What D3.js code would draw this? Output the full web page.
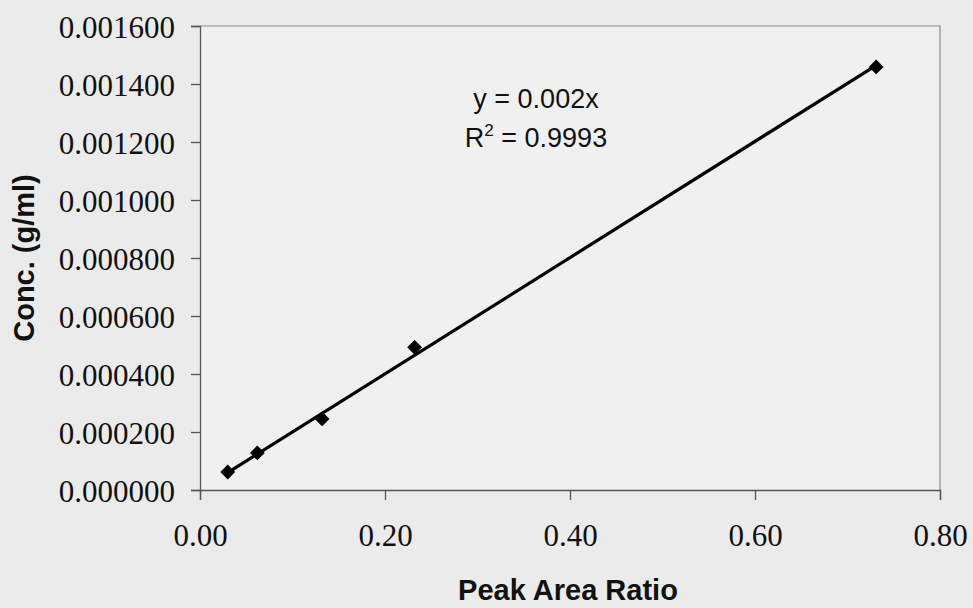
<!DOCTYPE html>
<meta charset="utf-8">
<style>
body { margin: 0; background: #ebebeb; }
.tick text { font-family: "Liberation Serif", "Times New Roman", serif; font-size: 31px; fill: #111; }
.title { font-family: "Liberation Sans", Arial, sans-serif; font-weight: bold; font-size: 29px; fill: #111; }
.eq { font-family: "Liberation Sans", Arial, sans-serif; font-size: 27px; fill: #111; }
</style>
<svg width="973" height="608"></svg>
<script src="https://d3js.org/d3.v7.min.js"></script>
<script>

// peak area ratio vs concentration
var ratio = [0.030, 0.062, 0.132, 0.232, 0.731];
var conc  = [0.000062, 0.000128, 0.000245, 0.000492, 0.001459];
var xTicks = [0, 0.2, 0.4, 0.6, 0.8];
var yTicks = [0, 0.0002, 0.0004, 0.0006, 0.0008, 0.0010, 0.0012, 0.0014, 0.0016];

var svg = d3.select("svg"),
    margin = {top: 26, right: 33, bottom: 118, left: 200},
    width = +svg.attr("width") - margin.left - margin.right,
    height = +svg.attr("height") - margin.top - margin.bottom;

var x = d3.scaleLinear().domain([0, 0.8]).range([0, width]);
var y = d3.scaleLinear().domain([0, 0.0016]).range([height, 0]);

var g = svg.append("g").attr("transform", "translate(" + margin.left + "," + margin.top + ")");

g.append("rect")
    .attr("width", width).attr("height", height)
    .attr("fill", "#f0f0f0");

// frame top / right
g.append("path")
    .attr("d", "M0,0H" + width + "V" + height)
    .attr("fill", "none").attr("stroke", "#8a8a8a").attr("stroke-width", 1.2);

var xAxis = g.append("g")
    .attr("transform", "translate(0," + height + ")")
    .call(d3.axisBottom(x).tickValues(xTicks).tickFormat(d3.format(".2f")).tickSizeOuter(0).tickSize(10).tickPadding(24));

var yAxis = g.append("g")
    .call(d3.axisLeft(y).tickValues(yTicks).tickFormat(d3.format(".6f")).tickSizeOuter(0).tickSize(9).tickPadding(16));

g.selectAll(".domain, .tick line").attr("stroke", "#555").attr("stroke-width", 1.3);
yAxis.selectAll(".tick text").attr("dy", "0.36em");
xAxis.selectAll(".tick text").attr("dy", "0.71em");

// trendline through origin, least squares
var sxy = d3.sum(ratio, function(d, i) { return d * conc[i]; }),
    sxx = d3.sum(ratio, function(d) { return d * d; }),
    slope = sxy / sxx;
var x0 = d3.min(ratio), x1 = d3.max(ratio);

g.append("line")
    .attr("x1", x(x0)).attr("y1", y(slope * x0))
    .attr("x2", x(x1)).attr("y2", y(slope * x1))
    .attr("stroke", "#000").attr("stroke-width", 3.2);

g.selectAll(".pt")
    .data(ratio)
  .enter().append("path")
    .attr("class", "pt")
    .attr("d", d3.symbol().type(d3.symbolDiamond2).size(140))
    .attr("transform", function(d, i) { return "translate(" + x(d) + "," + y(conc[i]) + ")"; })
    .attr("fill", "#000");

// equation
var eq = svg.append("g").attr("class", "eq");
eq.append("text").attr("x", 536).attr("y", 108).attr("text-anchor", "middle").text("y = 0.002x");
var r2 = eq.append("text").attr("x", 536).attr("y", 147).attr("text-anchor", "middle");
r2.append("tspan").text("R");
r2.append("tspan").attr("dy", -11).attr("font-size", 17).text("2");
r2.append("tspan").attr("dy", 11).text(" = 0.9993");

svg.append("text").attr("class", "title")
    .attr("x", 568).attr("y", 600).attr("text-anchor", "middle")
    .text("Peak Area Ratio");

svg.append("text").attr("class", "title")
    .attr("transform", "translate(34,258) rotate(-90)")
    .attr("text-anchor", "middle")
    .text("Conc. (g/ml)");

</script>
